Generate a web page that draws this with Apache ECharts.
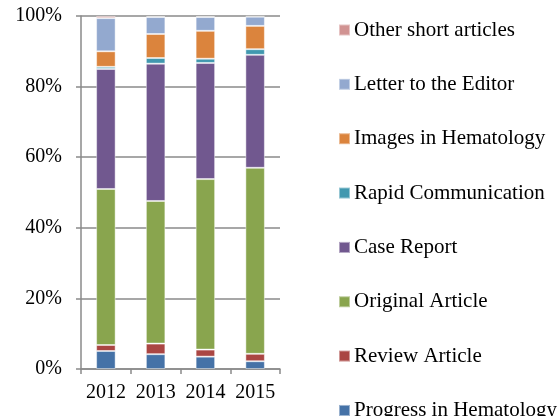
<!DOCTYPE html>
<html>
<head>
<meta charset="utf-8">
<script src="https://cdn.jsdelivr.net/npm/echarts@6/dist/echarts.min.js"></script>
<style>html,body{margin:0;padding:0;background:#fff}#c{width:560px;height:416px}</style>
</head>
<body>
<div id="c"></div>
<script>
const categories = ['2012', '2013', '2014', '2015'];
const progressInHematology = [5.1, 4.2, 3.5, 2.2];
const reviewArticle = [1.7, 3.0, 2.0, 2.1];
const originalArticle = [44.2, 40.4, 48.3, 52.7];
const caseReport = [34.0, 38.9, 32.9, 32.0];
const rapidCommunication = [0.6, 1.6, 1.2, 1.6];
const imagesInHematology = [4.4, 6.8, 7.9, 6.6];
const letterToTheEditor = [9.4, 4.8, 3.9, 2.6];
const otherShortArticles = [0.6, 0.3, 0.3, 0.2];
const yTicks = [0, 20, 40, 60, 80, 100];

const seriesDefs = [
  ['Progress in Hematology', progressInHematology, '#4572A7'],
  ['Review Article', reviewArticle, '#AA4643'],
  ['Original Article', originalArticle, '#89A54E'],
  ['Case Report', caseReport, '#71588F'],
  ['Rapid Communication', rapidCommunication, '#4198AF'],
  ['Images in Hematology', imagesInHematology, '#DB843D'],
  ['Letter to the Editor', letterToTheEditor, '#93A9CF'],
  ['Other short articles', otherShortArticles, '#D19392']
];

const font = '"Liberation Serif", "Times New Roman", serif';
const chart = echarts.init(document.getElementById('c'), null, {renderer: 'canvas'});
chart.setOption({
  animation: false,
  backgroundColor: '#fff',
  grid: {left: 81, right: 280, top: 16, bottom: 47, containLabel: false},
  legend: {
    orient: 'vertical',
    left: 338,
    top: 19,
    height: 700,
    padding: 0,
    itemWidth: 11,
    itemHeight: 11,
    itemGap: 32.35,
    icon: 'rect',
    data: seriesDefs.map(d => d[0]).reverse(),
    textStyle: {fontFamily: font, fontSize: 21, color: '#000', lineHeight: 22, padding: [0, 0, 0, -1]}
  },
  xAxis: {
    type: 'category',
    data: categories,
    axisLine: {lineStyle: {color: '#8a8a8a', width: 1.5}},
    axisTick: {show: true, length: 5, lineStyle: {color: '#8a8a8a', width: 1.5}},
    axisLabel: {fontFamily: font, fontSize: 20, color: '#000', margin: 14, interval: 0}
  },
  yAxis: {
    type: 'value',
    min: yTicks[0],
    max: yTicks[yTicks.length - 1],
    interval: 20,
    axisLine: {show: true, lineStyle: {color: '#8a8a8a', width: 1.5}},
    axisTick: {show: true, length: 5, lineStyle: {color: '#8a8a8a', width: 1.5}},
    axisLabel: {fontFamily: font, fontSize: 20, color: '#000', margin: 19, formatter: '{value}%'},
    splitLine: {lineStyle: {color: '#8a8a8a', width: 1.5}}
  },
  series: seriesDefs.map(d => ({
    name: d[0],
    type: 'bar',
    stack: 'total',
    data: d[1],
    barWidth: 19.5,
    itemStyle: {color: d[2], borderColor: 'rgba(255,255,255,0.45)', borderWidth: 1}
  }))
});
</script>
</body>
</html>
